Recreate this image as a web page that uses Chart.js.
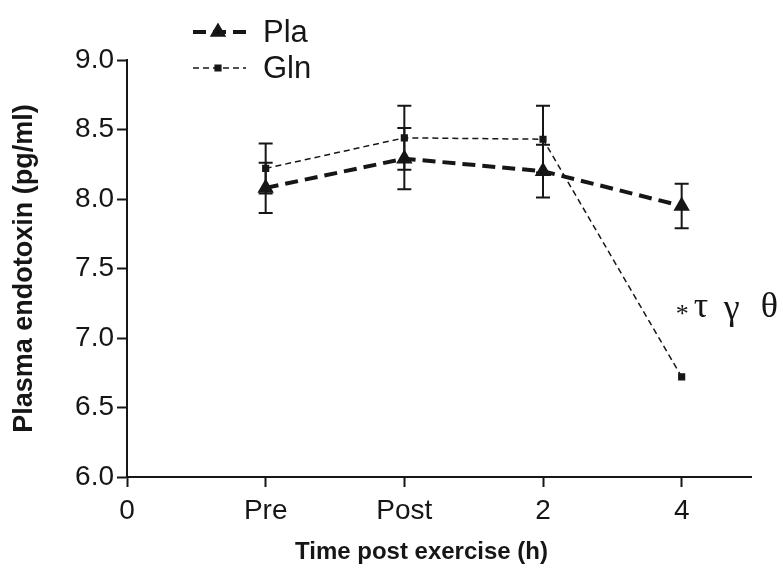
<!DOCTYPE html>
<html>
<head>
<meta charset="utf-8">
<script src="https://cdn.jsdelivr.net/npm/chart.js@4/dist/chart.umd.min.js"></script>
<style>
  html, body { margin: 0; padding: 0; background: #fff; }
  canvas { display: block; }
</style>
</head>
<body>
<canvas id="chart" width="783" height="572"></canvas>
<script>
// === Dados ===
const tickLabels = ['0', 'Pre', 'Post', '2', '4'];
const timePoints = ['Pre', 'Post', '2', '4'];
const plaMean = [8.08, 8.29, 8.20, 7.95];
const plaSem = [0.18, 0.22, 0.19, 0.16];
const glnMean = [8.22, 8.44, 8.43, 6.72];
const glnSem = [0.18, 0.23, 0.24, 0];
const yMin = 6.0, yMax = 9.0, yStep = 0.5;
const annotationText = ['*', 'τ', 'γ', 'θ'];

const ink = '#161616';
const sans = "'Liberation Sans', Arial, sans-serif";
const serif = "'Liberation Serif', 'Times New Roman', serif";

function toPoints(values) {
  return values.map((v, i) => ({ x: tickLabels.indexOf(timePoints[i]), y: v }));
}

// barras de erro (média ± EPM)
const errorBars = {
  id: 'errorBars',
  beforeDatasetsDraw(chart) {
    const ctx = chart.ctx;
    const y = chart.scales.y;
    ctx.save();
    ctx.strokeStyle = ink;
    ctx.lineWidth = 2;
    ctx.setLineDash([]);
    chart.data.datasets.forEach((ds, di) => {
      const meta = chart.getDatasetMeta(di);
      meta.data.forEach((pt, i) => {
        const sem = ds.sem[i];
        if (!sem) return;
        const top = y.getPixelForValue(ds.data[i].y + sem);
        const bot = y.getPixelForValue(ds.data[i].y - sem);
        ctx.beginPath();
        ctx.moveTo(pt.x, top); ctx.lineTo(pt.x, bot);
        ctx.moveTo(pt.x - 7, top); ctx.lineTo(pt.x + 7, top);
        ctx.moveTo(pt.x - 7, bot); ctx.lineTo(pt.x + 7, bot);
        ctx.stroke();
      });
    });
    ctx.restore();
  }
};

// legenda, título do eixo x e anotação
const extras = {
  id: 'extras',
  afterDraw(chart) {
    const ctx = chart.ctx;
    const x = chart.scales.x, y = chart.scales.y;
    ctx.save();

    chart.data.datasets.forEach((ds, i) => {
      const ly = 32 + i * 36;
      ctx.strokeStyle = ink;
      ctx.lineWidth = ds.borderWidth;
      ctx.setLineDash(ds.borderDash);
      ctx.beginPath();
      ctx.moveTo(193, ly); ctx.lineTo(246, ly);
      ctx.stroke();
      ctx.setLineDash([]);
      Chart.helpers.drawPoint(ctx, {
        pointStyle: ds.pointStyle, radius: ds.pointRadius, borderWidth: 1
      }, 218, ly);
      ctx.fillStyle = ink;
      ctx.font = '31px ' + sans;
      ctx.textBaseline = 'middle';
      ctx.textAlign = 'left';
      ctx.fillText(ds.label, 263, ly + 1);
    });

    ctx.fillStyle = ink;
    ctx.font = 'bold 24px ' + sans;
    ctx.textAlign = 'left';
    ctx.textBaseline = 'middle';
    ctx.fillText('Time post exercise (h)', 295, 552);

    // *τ γ θ junto ao ponto de 4 h
    const ax = x.getPixelForValue(4), ay = y.getPixelForValue(7.22);
    ctx.font = '26px ' + serif;
    ctx.fillText(annotationText[0], ax - 6, ay + 8);
    ctx.font = '36px ' + serif;
    ctx.fillText(annotationText[1], ax + 12, ay);
    ctx.fillText(annotationText[2], ax + 42, ay + 2);
    ctx.fillText(annotationText[3], ax + 79, ay);
    ctx.restore();
  }
};

Chart.defaults.font.family = sans;
Chart.defaults.color = ink;

new Chart(document.getElementById('chart'), {
  type: 'line',
  data: {
    datasets: [
      {
        label: 'Pla',
        data: toPoints(plaMean),
        sem: plaSem,
        borderColor: ink,
        backgroundColor: ink,
        borderWidth: 4,
        borderDash: [13, 7],
        pointStyle: 'triangle',
        pointRadius: 5.5,
        pointBackgroundColor: ink,
        pointBorderColor: ink,
        tension: 0
      },
      {
        label: 'Gln',
        data: toPoints(glnMean),
        sem: glnSem,
        borderColor: ink,
        backgroundColor: ink,
        borderWidth: 1.5,
        borderDash: [6, 4],
        pointStyle: 'rect',
        pointRadius: 4,
        pointBackgroundColor: ink,
        pointBorderColor: ink,
        tension: 0
      }
    ]
  },
  options: {
    responsive: false,
    animation: false,
    devicePixelRatio: 1,
    layout: { padding: { top: 60, right: 32, left: 0, bottom: 0 } },
    plugins: { legend: { display: false }, tooltip: { enabled: false } },
    scales: {
      x: {
        type: 'linear',
        min: 0,
        max: 4.5,
        afterBuildTicks: scale => { scale.ticks = tickLabels.map((_, i) => ({ value: i })); },
        afterFit: scale => { scale.height = 95; },
        border: { color: ink, width: 2 },
        grid: { drawOnChartArea: false, tickLength: 10, tickWidth: 2, color: ink },
        ticks: {
          callback: v => tickLabels[v],
          font: { size: 28 },
          color: ink,
          padding: 7,
          maxRotation: 0,
          autoSkip: false
        }
      },
      y: {
        min: yMin,
        max: yMax,
        afterFit: scale => { scale.width = 127; },
        border: { color: ink, width: 2 },
        grid: { drawOnChartArea: false, tickLength: 10, tickWidth: 2, color: ink },
        ticks: {
          stepSize: yStep,
          callback: v => v.toFixed(1),
          font: { size: 28 },
          color: ink,
          padding: 3
        },
        title: {
          display: true,
          text: 'Plasma endotoxin (pg/ml)',
          font: { size: 27, weight: 'bold' },
          color: ink,
          padding: { top: 8 }
        }
      }
    }
  },
  plugins: [errorBars, extras]
});
</script>
</body>
</html>
